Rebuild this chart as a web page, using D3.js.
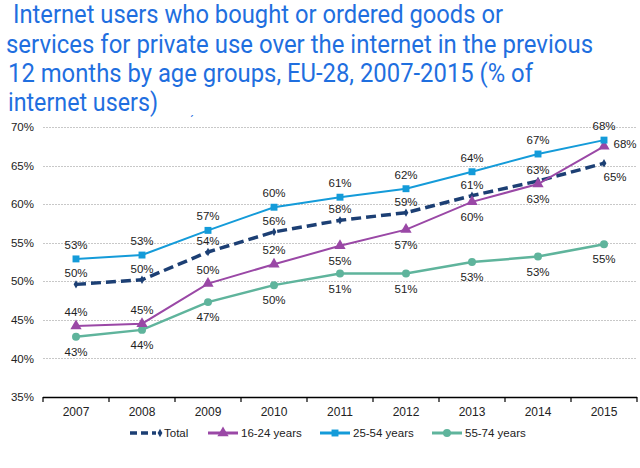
<!DOCTYPE html>
<html>
<head>
    <script src="https://cdnjs.cloudflare.com/ajax/libs/d3/7.8.5/d3.min.js"></script>
    <style>
        body { margin: 0; background: #fff; }
        svg { display: block; }
        .title { font-family: Roboto, "Noto Sans", sans-serif; font-size: 25px; fill: #1f6fdf; }
        .tick-label, .val-label, .legend-label {
            font-family: "Liberation Sans", Arial, sans-serif;
            font-size: 11.5px;
            fill: #222;
        }
        .grid { stroke: #c8c8c8; stroke-dasharray: 2,1; stroke-width: 1; }
    </style>
</head>
<body>
    <svg width="640" height="468"></svg>
    <script>
        // Data
        const years = ["2007", "2008", "2009", "2010", "2011", "2012", "2013", "2014", "2015"];
        const total = [49.6, 50.2, 53.8, 56.4, 57.9, 58.9, 61.1, 63.0, 65.3];
        const age16to24 = [44.2, 44.5, 49.7, 52.2, 54.6, 56.7, 60.3, 62.6, 67.5];
        const age25to54 = [52.9, 53.4, 56.6, 59.6, 60.9, 62.0, 64.2, 66.5, 68.3];
        const age55to74 = [42.8, 43.7, 47.3, 49.5, 51.0, 51.0, 52.5, 53.2, 54.8];
        const yTicks = [35, 40, 45, 50, 55, 60, 65, 70];
        const titleLines = [
            "Internet users who bought or ordered goods or",
            "services for private use over the internet in the previous",
            "12 months by age groups, EU-28, 2007-2015 (% of",
            "internet users)"
        ];

        // where each value label sits: a = above, b = below, r = right, br = below right
        const labelSide = {
            total: ["a", "a", "a", "a", "a", "a", "a", "a", "br"],
            y1624: ["a", "a", "a", "a", "b", "b", "b", "b", "r"],
            y2554: ["a", "a", "a", "a", "a", "a", "a", "a", "a"],
            y5574: ["b", "b", "b", "b", "b", "b", "b", "b", "b"]
        };

        const series = [
            { key: "total", name: "Total", values: total, color: "#1c3f74", dash: "10,5", width: 3.5, marker: "diamond" },
            { key: "y1624", name: "16-24 years", values: age16to24, color: "#9a48a6", dash: null, width: 2, marker: "triangle" },
            { key: "y2554", name: "25-54 years", values: age25to54, color: "#149bd9", dash: null, width: 2, marker: "square" },
            { key: "y5574", name: "55-74 years", values: age55to74, color: "#5fb49c", dash: null, width: 2.5, marker: "circle" }
        ];

        const svg = d3.select("svg");

        // Title
        const titleX = [13, 6, 8, 8];
        const titleW = [490, 587, 525, 150];
        const titleY = [23, 53, 82, 111];
        svg.selectAll("text.title")
            .data(titleLines)
            .join("text")
            .attr("class", "title")
            .attr("x", (d, i) => titleX[i])
            .attr("y", (d, i) => titleY[i])
            .attr("textLength", (d, i) => titleW[i])
            .attr("lengthAdjust", "spacingAndGlyphs")
            .text(d => d);

        svg.append("text")
            .attr("class", "title")
            .attr("x", 190)
            .attr("y", 125)
            .style("font-size", "12px")
            .text("\u00b4");

        // Scales
        const x = d3.scaleBand().domain(years).range([43, 637]).paddingInner(0).paddingOuter(0);
        const y = d3.scaleLinear().domain([35, 70]).range([397, 127]);
        const cx = d => x(d) + x.bandwidth() / 2;

        // Gridlines
        svg.append("g")
            .selectAll("line")
            .data(yTicks.filter(t => t > 35))
            .join("line")
            .attr("class", "grid")
            .attr("x1", 43)
            .attr("x2", 637)
            .attr("y1", d => Math.round(y(d)) + 0.5)
            .attr("y2", d => Math.round(y(d)) + 0.5);

        // Y axis labels
        const yAxis = svg.append("g")
            .attr("transform", "translate(34,0)")
            .call(d3.axisLeft(y).tickValues(yTicks).tickSize(0).tickPadding(0).tickFormat(d => d + "%"));
        yAxis.select(".domain").remove();
        yAxis.selectAll("text").attr("class", "tick-label").attr("fill", null);

        // X axis
        const xAxis = svg.append("g")
            .attr("transform", "translate(0,397)")
            .call(d3.axisBottom(x).tickSize(0).tickPadding(10));
        xAxis.select(".domain").attr("d", "M43,0.5H637").attr("stroke", "#000").attr("stroke-width", 1.5);
        xAxis.selectAll("text").attr("class", "tick-label").attr("fill", null).style("font-size", "12px");
        xAxis.append("g")
            .selectAll("line")
            .data(years.concat(["end"]))
            .join("line")
            .attr("x1", (d, i) => 43 + i * x.step())
            .attr("x2", (d, i) => 43 + i * x.step())
            .attr("y1", 0)
            .attr("y2", 5)
            .attr("stroke", "#000")
            .attr("stroke-width", 1.2);

        // Marker shapes
        function markerPath(type) {
            if (type === "triangle") return d3.symbol(d3.symbolTriangle, 55)();
            if (type === "square") return d3.symbol(d3.symbolSquare, 48)();
            if (type === "circle") return d3.symbol(d3.symbolCircle, 50)();
            return d3.symbol(d3.symbolDiamond, 20)();
        }

        const line = d3.line()
            .x((d, i) => cx(years[i]))
            .y(d => y(d));

        const drawOrder = [series[0], series[3], series[1], series[2]];
        drawOrder.forEach(s => {
            svg.append("path")
                .datum(s.values)
                .attr("fill", "none")
                .attr("stroke", s.color)
                .attr("stroke-width", s.width)
                .attr("stroke-dasharray", s.dash)
                .attr("d", line);

            svg.append("g")
                .selectAll("path")
                .data(s.values)
                .join("path")
                .attr("transform", (d, i) => `translate(${cx(years[i])},${y(d)})`)
                .attr("fill", s.color)
                .attr("d", markerPath(s.marker));
        });

        // Value labels
        const offsets = {
            a: [0, -14], b: [0, 15], r: [21, -2], br: [11, 14]
        };
        series.forEach(s => {
            const aboveDy = s.key === "total" ? -11 : -14;
            svg.append("g")
                .selectAll("text")
                .data(s.values)
                .join("text")
                .attr("class", "val-label")
                .attr("text-anchor", "middle")
                .attr("dominant-baseline", "central")
                .attr("x", (d, i) => cx(years[i]) + offsets[labelSide[s.key][i]][0])
                .attr("y", (d, i) => {
                    const side = labelSide[s.key][i];
                    return y(d) + (side === "a" ? aboveDy : offsets[side][1]);
                })
                .text(d => Math.round(d) + "%");
        });

        // Legend
        const legendX = [130, 208, 320, 432];
        const legend = svg.append("g")
            .selectAll("g")
            .data(series)
            .join("g")
            .attr("transform", (d, i) => `translate(${legendX[i]},433)`);

        legend.append("line")
            .attr("x1", 0)
            .attr("x2", d => d.key === "total" ? 26 : 30)
            .attr("stroke", d => d.color)
            .attr("stroke-width", d => d.key === "total" ? 3.5 : 3)
            .attr("stroke-dasharray", d => d.key === "total" ? "7,4" : null);

        legend.append("path")
            .attr("transform", d => `translate(${d.key === "total" ? 30 : 15},0)`)
            .attr("fill", d => d.color)
            .attr("d", d => markerPath(d.marker));

        legend.append("text")
            .attr("class", "legend-label")
            .attr("x", d => d.key === "total" ? 34 : 33)
            .attr("dominant-baseline", "central")
            .text(d => d.name);
    </script>
</body>
</html>
